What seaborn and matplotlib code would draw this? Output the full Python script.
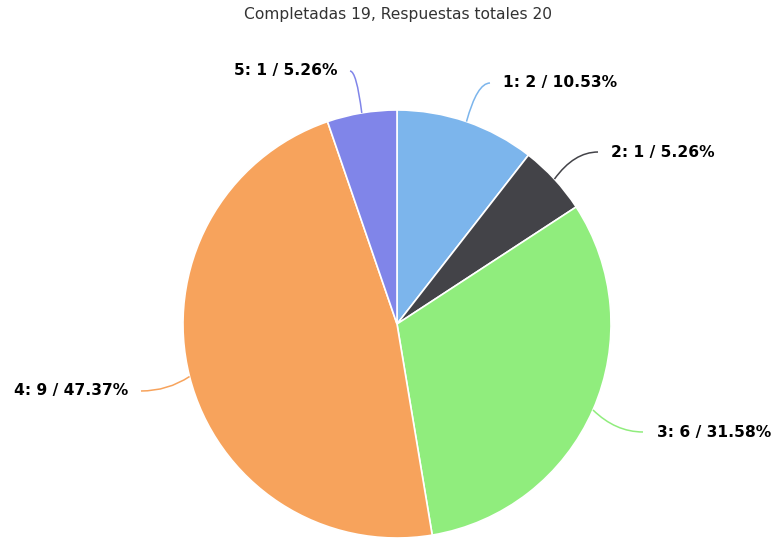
import numpy as np
import matplotlib
matplotlib.use("Agg")
import matplotlib.pyplot as plt
from matplotlib.path import Path
from matplotlib.patches import PathPatch
import seaborn as sns

categories = ["1", "2", "3", "4", "5"]
counts = [2, 1, 6, 9, 1]
percents = [10.53, 5.26, 31.58, 47.37, 5.26]
title = "Completadas 19, Respuestas totales 20"

colors = ["#7cb5ec", "#434348", "#90ed7d", "#f7a35c", "#8085e9"]

sns.set_theme(style="white")
plt.rcParams['font.family'] = ['DejaVu Sans']

W, H = 773, 538
fig = plt.figure(figsize=(W / 100, H / 100), dpi=100)
ax = fig.add_axes([0, 0, 1, 1])

cx, cy, R = 397, H - 324, 214
wedges, _ = ax.pie(counts, colors=colors, startangle=90, counterclock=False,
                   center=(cx, cy), radius=R,
                   wedgeprops=dict(edgecolor="white", linewidth=1.2))
ax.set_xlim(0, W)
ax.set_ylim(0, H)
ax.set_aspect("equal")
ax.axis("off")

# label layout: (text x, text y in pixels from top, ha, connector end x)
layout = [
    (503, 83, "left", 490),
    (611, 152, "left", 598),
    (657, 432, "left", 643),
    (128, 391, "right", 141),
    (338, 71, "right", 350),
]

total = sum(counts)
cum = np.cumsum([0] + counts)
for i, (cat, n, p) in enumerate(zip(categories, counts, percents)):
    mid = (cum[i] + cum[i + 1]) / 2 / total * 360
    th = np.deg2rad(mid)
    ax_x = cx + R * np.sin(th)
    ax_y = cy + R * np.cos(th)
    tx, ty, ha, ex = layout[i]
    ey = H - ty
    path = Path([(ax_x, ax_y), (ax_x + (ex - ax_x) * 0.45, ey), (ex, ey)],
                [Path.MOVETO, Path.CURVE3, Path.CURVE3])
    ax.add_patch(PathPatch(path, fill=False, edgecolor=colors[i], linewidth=1.1))
    ax.text(tx, ey, f"{cat}: {n} / {p:.2f}%", ha=ha, va="center",
            fontsize=11.2, fontweight="bold", color="black")

fig.text(398 / W, 1 - 15 / H, title, ha="center", va="center", fontsize=11.2, color="#333333")

fig.savefig("out.png", dpi=100)
